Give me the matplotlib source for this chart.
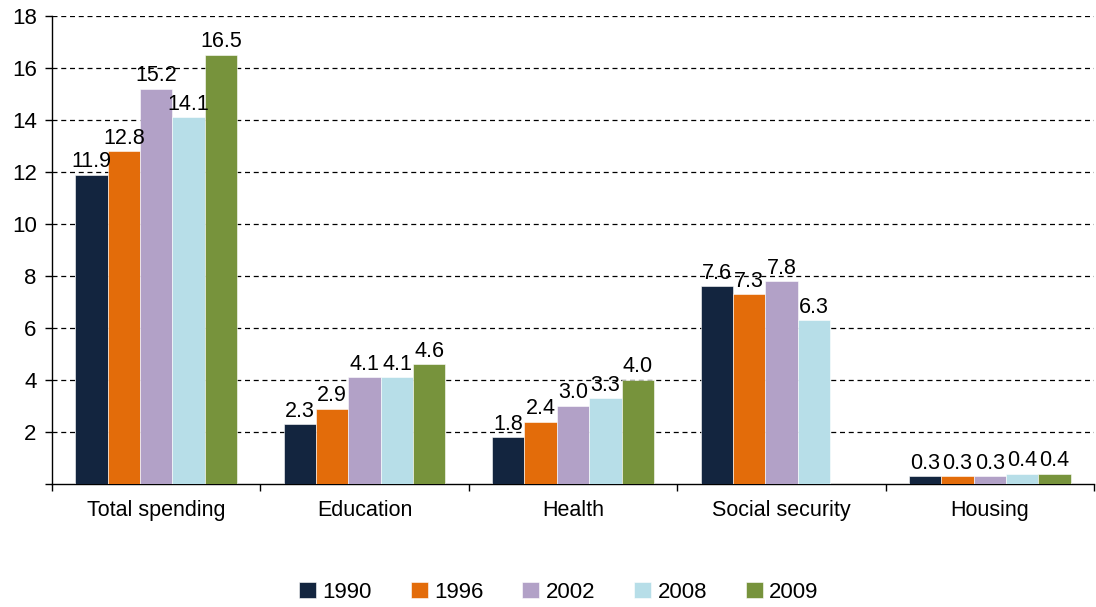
import matplotlib
matplotlib.use("Agg")
import matplotlib.pyplot as plt
import numpy as np

CATEGORIES = ["Total spending", "Education", "Health", "Social security", "Housing"]
YEARS = ["1990", "1996", "2002", "2008", "2009"]
V1990 = [11.9, 2.3, 1.8, 7.6, 0.3]
V1996 = [12.8, 2.9, 2.4, 7.3, 0.3]
V2002 = [15.2, 4.1, 3.0, 7.8, 0.3]
V2008 = [14.1, 4.1, 3.3, 6.3, 0.4]
V2009 = [16.5, 4.6, 4.0, None, 0.4]
COLORS = ["#13253f", "#e36c0a", "#b2a1c7", "#b7dee8", "#77933c"]

plt.rcParams["font.family"] = ["Liberation Sans", "DejaVu Sans"]

fig = plt.figure(figsize=(10.96, 6.07), dpi=100)
ax = fig.add_axes([52 / 1096, 1 - 484 / 607, 1042 / 1096, 468 / 607])

series = [V1990, V1996, V2002, V2008, V2009]
n = len(series)
bw = 0.776 / n
x = np.arange(len(CATEGORIES))

for i, (vals, year, col) in enumerate(zip(series, YEARS, COLORS)):
    xs = x - 0.388 + bw * (i + 0.5)
    idx = [k for k, v in enumerate(vals) if v is not None]
    hs = [vals[k] for k in idx]
    bars = ax.bar(xs[idx], hs, width=bw, color=col, label=year,
                  edgecolor="white", linewidth=0.4, zorder=3)
    for b, h in zip(bars, hs):
        ax.text(b.get_x() + b.get_width() / 2, h + 0.1, f"{h:.1f}",
                ha="center", va="bottom", fontsize=15.5, color="black", zorder=4)

ax.set_xlim(-0.5, len(CATEGORIES) - 0.5)
ax.set_ylim(0, 18)
ax.set_yticks(np.arange(2, 19, 2))
ax.set_yticklabels([str(v) for v in range(2, 19, 2)], fontsize=16)
ax.set_yticks([0], minor=True)
ax.tick_params(axis="y", which="both", direction="out", length=5, width=1, pad=6)
ax.yaxis.grid(True, linestyle=(0, (4, 3)), color="black", linewidth=0.9, zorder=0)

ax.set_xticks(np.arange(-0.5, len(CATEGORIES), 1.0))
ax.set_xticklabels([])
ax.tick_params(axis="x", direction="out", length=5, width=1)
for xi, c in zip(x, CATEGORIES):
    ax.text(xi, -0.6, c, ha="center", va="top", fontsize=15.5,
            transform=ax.transData)

for s in ["top", "right"]:
    ax.spines[s].set_visible(False)
ax.spines["left"].set_linewidth(1)
ax.spines["bottom"].set_linewidth(1)

fig.legend(loc="center", bbox_to_anchor=(0.51, 1 - 592 / 607), ncol=5,
           frameon=False, fontsize=16, handlelength=0.75, handleheight=0.75,
           handletextpad=0.3, columnspacing=1.75)

fig.savefig("out.png", dpi=100)
